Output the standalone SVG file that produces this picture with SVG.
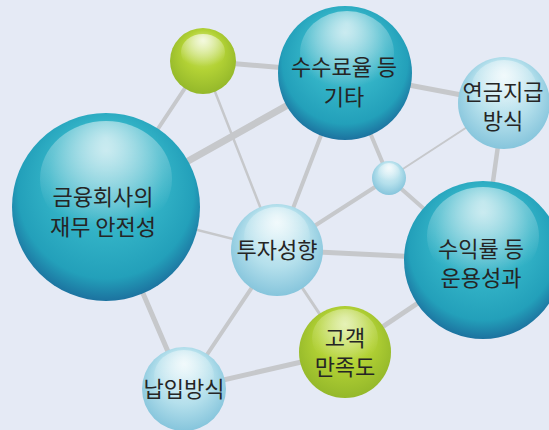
<svg xmlns="http://www.w3.org/2000/svg" width="549" height="430" viewBox="0 0 549 430">
<defs>
<radialGradient id="teal" cx="0.5" cy="0.45" r="0.55" fx="0.5" fy="0.2">
<stop offset="0" stop-color="#93d6e1"/>
<stop offset="0.55" stop-color="#32b2c6"/>
<stop offset="0.85" stop-color="#23a0ba"/>
<stop offset="1" stop-color="#1c729f"/>
</radialGradient>
<radialGradient id="light" cx="0.5" cy="0.45" r="0.55" fx="0.5" fy="0.2">
<stop offset="0" stop-color="#e6f5f9"/>
<stop offset="0.6" stop-color="#b5e0ec"/>
<stop offset="1" stop-color="#86c5dc"/>
</radialGradient>
<radialGradient id="green" cx="0.5" cy="0.45" r="0.55" fx="0.5" fy="0.2">
<stop offset="0" stop-color="#d6ea8a"/>
<stop offset="0.55" stop-color="#b3d235"/>
<stop offset="1" stop-color="#94b82a"/>
</radialGradient>
<radialGradient id="gloss" cx="0.5" cy="0.15" r="0.75">
<stop offset="0" stop-color="#ffffff" stop-opacity="0.75"/>
<stop offset="1" stop-color="#ffffff" stop-opacity="0"/>
</radialGradient>
<style>
.e{stroke:#c6c8cb;fill:none;stroke-linecap:round}
.t{font-family:"Noto Sans CJK KR","Noto Sans",sans-serif;font-size:22px;fill:#252525;text-anchor:middle}
</style>
</defs>
<rect width="549" height="430" fill="#e5eaf5"/>
<g id="connectors">
<line class="e" x1="203" y1="61" x2="345" y2="73" stroke-width="5"/>
<line class="e" x1="203" y1="61" x2="106" y2="207" stroke-width="4"/>
<line class="e" x1="203" y1="61" x2="277" y2="250" stroke-width="2.5"/>
<line class="e" x1="106" y1="207" x2="345" y2="73" stroke-width="7"/>
<line class="e" x1="345" y1="73" x2="504" y2="103" stroke-width="5"/>
<line class="e" x1="345" y1="73" x2="277" y2="250" stroke-width="4"/>
<line class="e" x1="345" y1="73" x2="389" y2="178" stroke-width="4"/>
<line class="e" x1="504" y1="103" x2="389" y2="178" stroke-width="2"/>
<line class="e" x1="504" y1="103" x2="482" y2="260" stroke-width="4.5"/>
<line class="e" x1="389" y1="178" x2="277" y2="250" stroke-width="4"/>
<line class="e" x1="389" y1="178" x2="482" y2="260" stroke-width="4"/>
<line class="e" x1="106" y1="207" x2="277" y2="250" stroke-width="2.5"/>
<line class="e" x1="277" y1="250" x2="482" y2="260" stroke-width="5"/>
<line class="e" x1="277" y1="250" x2="345" y2="352" stroke-width="3"/>
<line class="e" x1="277" y1="250" x2="184" y2="389" stroke-width="4"/>
<line class="e" x1="106" y1="207" x2="184" y2="389" stroke-width="5"/>
<line class="e" x1="184" y1="389" x2="345" y2="352" stroke-width="5"/>
<line class="e" x1="345" y1="352" x2="482" y2="260" stroke-width="5"/>
</g>
<g id="n-green-top">
<circle cx="203" cy="61" r="33" fill="url(#green)"/>
<ellipse cx="203" cy="52" rx="22" ry="18" fill="url(#gloss)"/>
</g>
<g id="n-fees">
<circle cx="345" cy="73" r="67" fill="url(#teal)"/>
<ellipse cx="347" cy="53" rx="47" ry="42" fill="url(#gloss)" opacity="0.8"/>
<text class="t" x="344" y="75">수수료율 등</text>
<text class="t" x="344" y="105">기타</text>
</g>
<g id="n-pension">
<circle cx="504" cy="103" r="46" fill="url(#light)"/>
<ellipse cx="504" cy="89" rx="33" ry="29" fill="url(#gloss)" opacity="0.7"/>
<text class="t" x="503" y="100">연금지급</text>
<text class="t" x="503" y="129">방식</text>
</g>
<g id="n-small">
<circle cx="389" cy="178" r="17" fill="url(#light)"/>
<ellipse cx="389" cy="173" rx="11" ry="10" fill="url(#gloss)" opacity="0.8"/>
</g>
<g id="n-finance">
<circle cx="106" cy="207" r="94" fill="url(#teal)"/>
<ellipse cx="106" cy="179" rx="66" ry="58" fill="url(#gloss)" opacity="0.8"/>
<text class="t" x="103" y="205">금융회사의</text>
<text class="t" x="103" y="235">재무 안전성</text>
</g>
<g id="n-invest">
<circle cx="277" cy="250" r="46" fill="url(#light)"/>
<ellipse cx="277" cy="236" rx="33" ry="29" fill="url(#gloss)" opacity="0.7"/>
<text class="t" x="277" y="258">투자성향</text>
</g>
<g id="n-return">
<circle cx="483" cy="260" r="79" fill="url(#teal)"/>
<ellipse cx="483" cy="236" rx="56" ry="49" fill="url(#gloss)" opacity="0.8"/>
<text class="t" x="481" y="257">수익률 등</text>
<text class="t" x="481" y="286">운용성과</text>
</g>
<g id="n-customer">
<circle cx="345" cy="352" r="46" fill="url(#green)"/>
<ellipse cx="345" cy="338" rx="33" ry="29" fill="url(#gloss)" opacity="0.6"/>
<text class="t" x="345" y="346">고객</text>
<text class="t" x="345" y="375">만족도</text>
</g>
<g id="n-payment">
<circle cx="184" cy="389" r="42" fill="url(#light)"/>
<ellipse cx="184" cy="376" rx="30" ry="26" fill="url(#gloss)" opacity="0.7"/>
<text class="t" x="184" y="397">납입방식</text>
</g>
</svg>
